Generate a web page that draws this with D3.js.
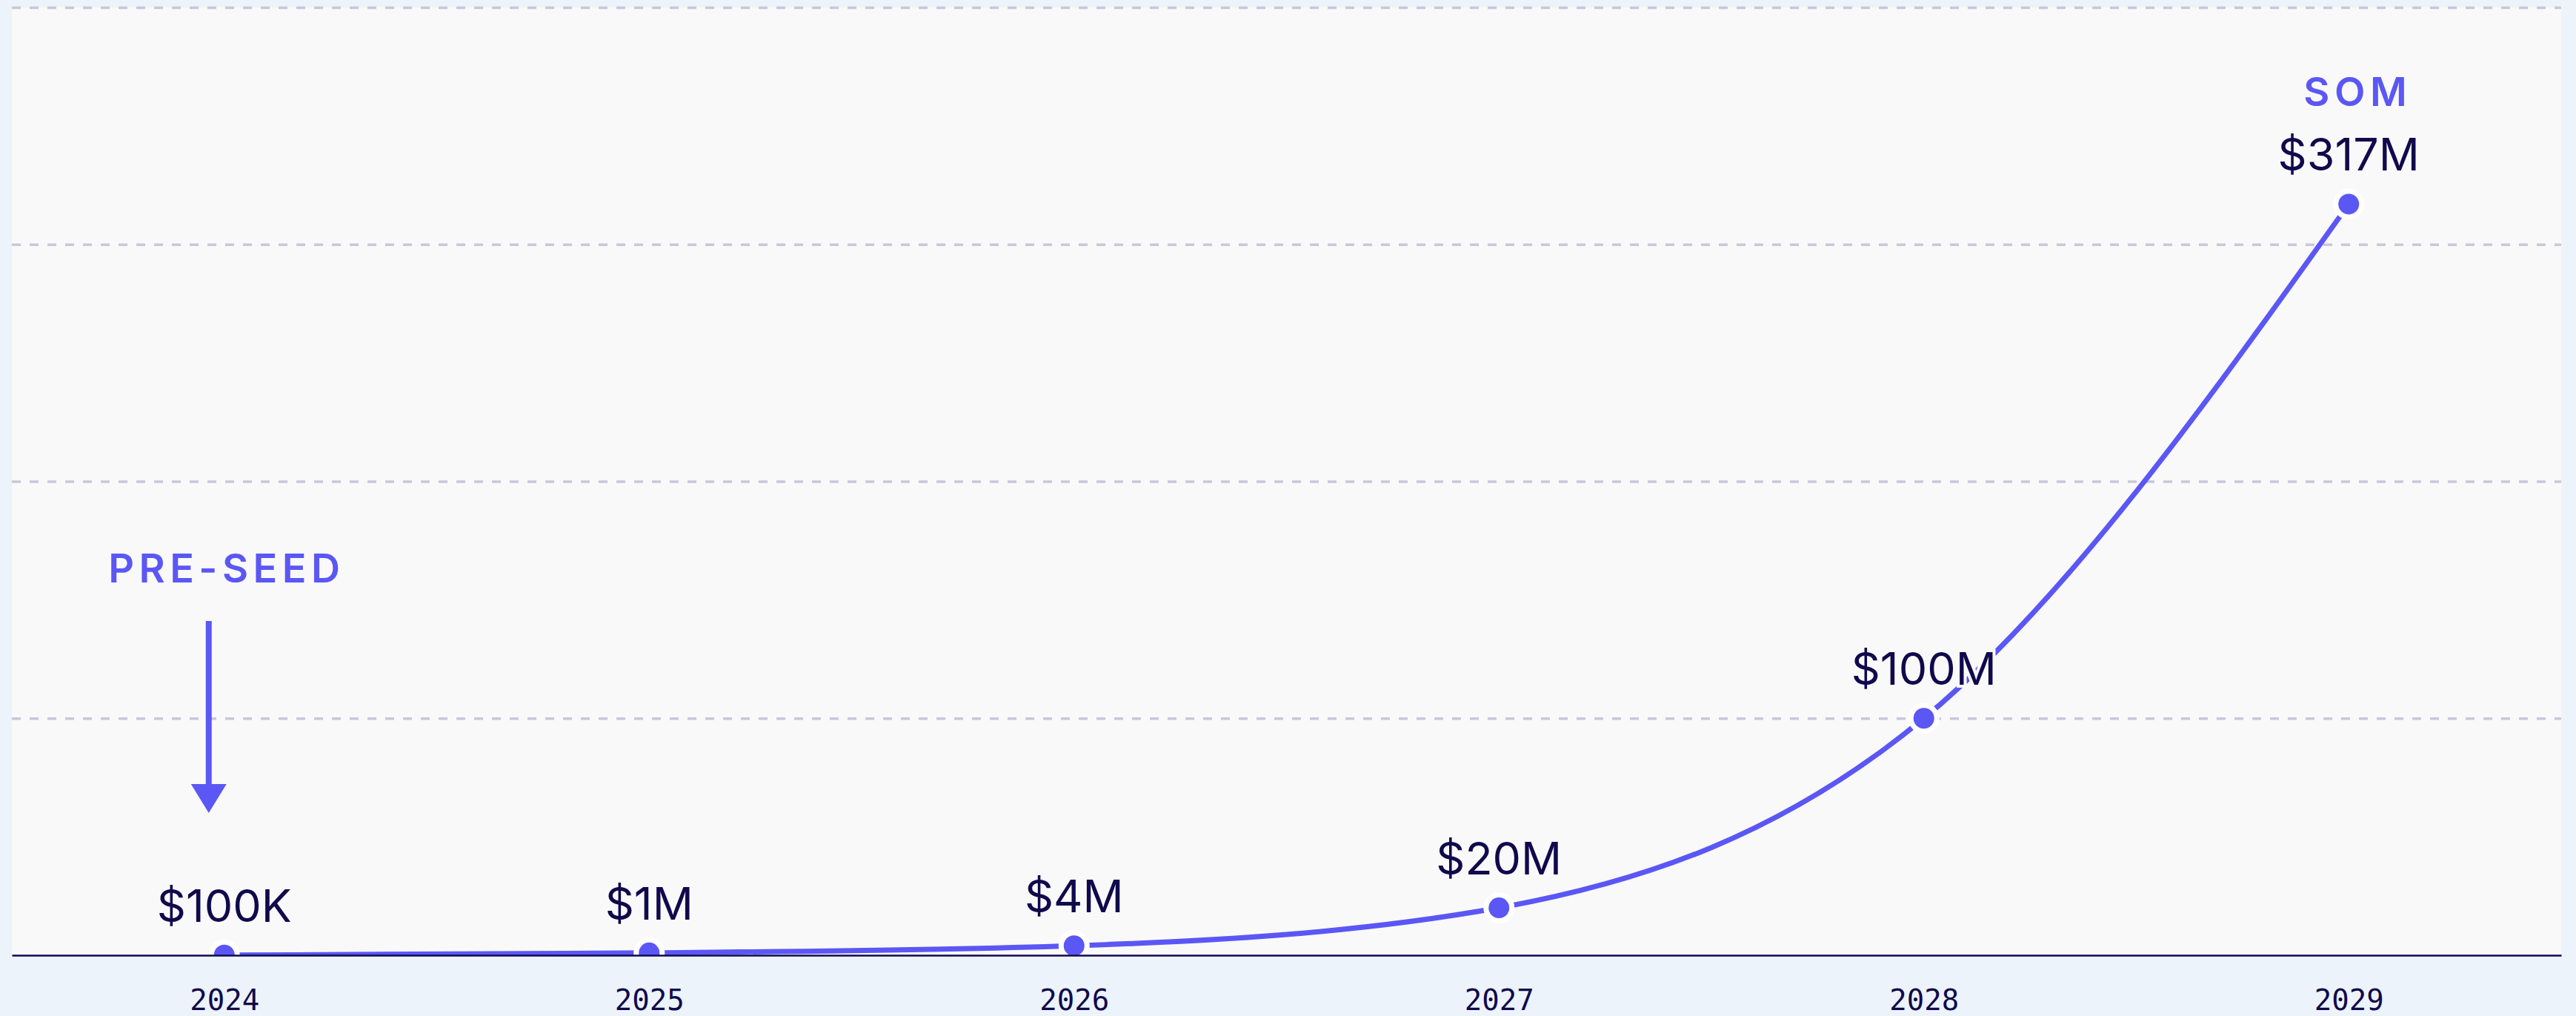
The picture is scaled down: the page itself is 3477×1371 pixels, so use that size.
<!DOCTYPE html>
<html>
<head>
<meta charset="utf-8">
<script src="https://cdn.jsdelivr.net/npm/d3@7"></script>
<style>
  html, body { margin: 0; padding: 0; background: #ecf3fb; }
  svg { display: block; }
</style>
</head>
<body>
<div id="chart-area"></div>
<script>
// ---------- data ----------
const years = ["2024", "2025", "2026", "2027", "2028", "2029"];
const values = [0.1, 1, 4, 20, 100, 317];            // $ millions
const valueLabels = ["$100K", "$1M", "$4M", "$20M", "$100M", "$317M"];
const gridTicks = [100, 200, 300, 400];
const noteYears = ["2024", "2029"];
const noteTexts = ["PRE-SEED", "SOM"];

// ---------- setup ----------
const width = 3477;
const height = 1371;
const plot = {left: 16, right: 3457, top: 10, bottom: 1289};

const purple = "#5b57f5";
const navy = "#100a4c";

const svg = d3.select("#chart-area")
  .append("svg")
  .attr("width", width)
  .attr("height", height);

svg.append("rect")
  .attr("width", width)
  .attr("height", height)
  .attr("fill", "#ecf3fb");

svg.append("rect")
  .attr("x", plot.left)
  .attr("y", plot.top)
  .attr("width", plot.right - plot.left)
  .attr("height", plot.bottom - plot.top)
  .attr("fill", "#f9f9f9");

svg.append("clipPath")
  .attr("id", "plot-clip")
  .append("rect")
  .attr("x", plot.left)
  .attr("y", 0)
  .attr("width", plot.right - plot.left)
  .attr("height", plot.bottom);

// ---------- scales ----------
const x = d3.scalePoint()
  .domain(years)
  .range([plot.left, plot.right])
  .padding(0.5);

const y = d3.scaleLinear()
  .domain([0, 400])
  .range([plot.bottom, plot.top]);

// ---------- grid ----------
const grid = svg.append("g")
  .attr("transform", `translate(${plot.left},0)`)
  .call(d3.axisLeft(y)
    .tickValues(gridTicks)
    .tickSize(-(plot.right - plot.left))
    .tickFormat(""));
grid.select(".domain").remove();
grid.selectAll("line")
  .attr("stroke", "#c9c7d9")
  .attr("stroke-width", 3.5)
  .attr("stroke-dasharray", "12,12");

// ---------- line ----------
const pts = years.map((yr, i) => ({year: yr, value: values[i], label: valueLabels[i]}));

const lineGen = d3.line()
  .x(d => x(d.year))
  .y(d => y(d.value))
  .curve(d3.curveMonotoneX);

const chart = svg.append("g").attr("clip-path", "url(#plot-clip)");

chart.append("path")
  .datum(pts)
  .attr("d", lineGen)
  .attr("fill", "none")
  .attr("stroke", purple)
  .attr("stroke-width", 7);

chart.selectAll("circle")
  .data(pts)
  .enter()
  .append("circle")
  .attr("cx", d => x(d.year))
  .attr("cy", d => y(d.value))
  .attr("r", 14)
  .attr("fill", purple)
  .attr("stroke", "#ffffff")
  .attr("stroke-width", 14)
  .style("paint-order", "stroke");

// value labels
svg.selectAll(".value-label")
  .data(pts)
  .enter()
  .append("text")
  .attr("class", "value-label")
  .attr("x", d => x(d.year))
  .attr("y", d => y(d.value) - 45)
  .attr("text-anchor", "middle")
  .attr("font-family", "Inter, 'Noto Sans', sans-serif")
  .attr("font-size", "61px")
  .attr("fill", navy)
  .attr("stroke", "#f9f9f9")
  .attr("stroke-width", 8)
  .style("paint-order", "stroke")
  .text(d => d.label);

// ---------- x axis ----------
const xAxis = svg.append("g")
  .attr("transform", `translate(0,${plot.bottom})`)
  .call(d3.axisBottom(x).tickSize(0).tickSizeOuter(0));
xAxis.select(".domain")
  .attr("stroke", navy)
  .attr("stroke-width", 2.5);
xAxis.selectAll("text")
  .attr("y", 74)
  .attr("dy", 0)
  .attr("font-family", "'DejaVu Sans Mono', monospace")
  .attr("font-size", "39px")
  .attr("fill", navy);

// ---------- annotations ----------
const noteStyle = sel => sel
  .attr("text-anchor", "middle")
  .attr("font-family", "Inter, 'Noto Sans', sans-serif")
  .attr("font-size", "54px")
  .attr("font-weight", 600)
  .attr("letter-spacing", "0.12em")
  .attr("fill", purple);

// PRE-SEED
const x0 = x(noteYears[0]);
svg.append("text")
  .attr("x", x0 + 3)
  .attr("y", 786)
  .call(noteStyle)
  .text(noteTexts[0]);

const ax = x0 - 21;
svg.append("line")
  .attr("x1", ax).attr("x2", ax)
  .attr("y1", 838).attr("y2", 1062)
  .attr("stroke", purple)
  .attr("stroke-width", 8);
svg.append("path")
  .attr("d", `M${ax - 24},1058 L${ax + 24},1058 L${ax},1097 Z`)
  .attr("fill", purple);

// SOM
const last = pts[pts.length - 1];
svg.append("text")
  .attr("x", x(noteYears[1]) + 12)
  .attr("y", y(last.value) - 132)
  .call(noteStyle)
  .text(noteTexts[1]);
</script>
</body>
</html>
